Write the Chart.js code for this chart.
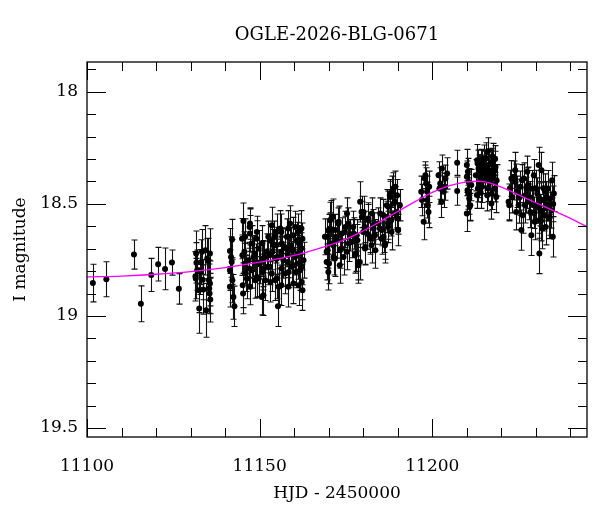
<!DOCTYPE html>
<html><head><meta charset="utf-8">
<script src="https://cdn.jsdelivr.net/npm/chart.js@4.4.0/dist/chart.umd.min.js"></script>
<style>html,body{margin:0;padding:0;background:#fff}#wrap{width:600px;height:512px}</style>
</head><body><div id="wrap"><canvas id="c" width="600" height="512"></canvas></div>
<script>
const chartTitle = 'OGLE-2026-BLG-0671';
const xLabel = 'HJD - 2450000';
const yLabel = 'I magnitude';
const xMin = 11100, xMax = 11244.8;
const yMin = 17.867, yMax = 19.54;
const xMajorTicks = [11100, 11150, 11200];
const xMinorTicks = [11110, 11120, 11130, 11140, 11160, 11170, 11180, 11190, 11210, 11220, 11230, 11240];
const yMajorTicks = [18, 18.5, 19, 19.5];
const yMinorTicks = [17.9, 18.1, 18.2, 18.3, 18.4, 18.6, 18.7, 18.8, 18.9, 19.1, 19.2, 19.3, 19.4];

// model fit curve
const fitHjd = [11100, 11110, 11120, 11130, 11140, 11150, 11160, 11170, 11175, 11180, 11185, 11190, 11195, 11200, 11205, 11210, 11215, 11220, 11225, 11230, 11235, 11240, 11245];
const fitMag = [18.826, 18.822, 18.814, 18.802, 18.784, 18.760, 18.730, 18.685, 18.657, 18.620, 18.578, 18.534, 18.490, 18.449, 18.419, 18.402, 18.401, 18.425, 18.460, 18.495, 18.530, 18.565, 18.604];

// photometry
const hjd = [
 11101.7,11105.6,11113.6,11115.6,11118.6,11120.6,11122.6,11124.6,11126.6,
 11131.6,11131.7,11131.4,11131.5,11132.4,11132.5,11133.3,11133.5,11133.7,11134.3,11134.5,11134.8,11135.0,11135.3,11135.6,11135.6,11135.5,11135.7,11135.4,11131.9,11132.8,11133.0,
 11142.0,11141.4,11141.7,11141.9,11141.4,11142.1,11141.4,11142.4,11142.7,
 11145.3,11145.8,11145.6,11146.0,11146.3,11147.2,11147.2,11147.7,11148.2,11148.7,11149.2,11149.7,11150.1,11150.6,11150.8,11151.6,11152.1,11152.5,11153.0,11153.5,11154.0,11154.5,11155.0,11155.3,11155.5,11156.0,11156.4,11156.9,11157.4,11157.9,11158.4,11158.8,11159.3,11159.8,11160.3,11160.8,11161.2,11161.7,11162.2,11162.4,11162.7,11162.4,
 11146.8,11148.5,11151.4,11152.4,11153.7,11154.3,11156.2,11157.2,11158.2,11159.1,11160.1,11160.5,11161.4,11149.7,11151.1,11145.8,11147.7,11153.5,
 11147.1,11147.0,11147.2,11149.1,11149.0,11149.2,11151.0,11150.9,11151.1,11153.0,11152.9,11153.1,11154.9,11154.8,11155.0,11154.9,11156.3,11156.2,11156.4,11156.3,11158.3,11158.2,11158.4,11158.3,11159.7,11159.6,11159.8,11161.2,11161.1,11161.3,11162.1,11162.0,11162.2,11145.0,11145.1,11145.2,11144.9,
 11169.5,11170.0,11170.4,11169.7,11170.1,11170.9,11171.1,11171.4,11171.9,11172.4,11172.9,11173.3,11173.8,11174.3,11174.8,11175.3,11175.8,11176.2,
 11177.2,11177.8,11178.3,11178.6,11179.1,11179.6,11180.1,11180.4,11180.6,11181.1,11181.5,11182.0,11182.5,11183.0,11183.5,
 11184.4,11184.9,11185.4,11185.9,11186.4,11186.9,11187.3,11187.8,11188.3,11188.8,11189.3,11189.8,11190.1,11189.1,11188.1,11187.2,
 11168.9,11169.4,11169.4,11169.9,11170.4,11170.8,11171.3,11171.8,11172.3,11172.8,11173.2,11173.7,
 11174.7,11175.2,11175.7,11176.6,11177.1,11177.6,11178.1,11178.6,11179.0,11179.5,11180.0,11180.5,11181.5,11181.9,11182.4,11182.9,11183.4,
 11184.8,11185.3,11185.8,11186.3,11186.8,11187.2,11187.7,11188.2,11188.7,11189.2,11189.7,11190.1,11190.6,11190.1,
 11197.0,11197.5,11197.8,11198.2,11198.5,11198.7,11198.9,11198.0,11199.1,11196.8,11198.5,
 11201.8,11202.3,11202.8,11203.3,11203.8,11204.3,11202.6,11203.6,11202.1,
 11207.2,11207.2,
 11210.0,11210.5,11210.2,11210.7,11210.0,11211.0,11210.3,11211.3,
 11213.0,11213.4,11213.9,11214.4,11214.9,11215.4,11215.9,11216.1,11216.3,11216.8,11217.1,11217.5,11217.8,11218.1,11218.3,11218.5,11213.2,11214.2,11215.2,11216.5,11217.3,11215.6,11214.6,11213.6,
 11212.6,11213.1,11213.8,11214.4,11215.2,11215.8,11216.4,11216.9,11217.4,11218.0,11218.6,11218.2,11214.0,11216.0,11217.2,11212.9,11210.0,11210.4,11210.8,
 11222.1,11222.3,11222.9,11223.6,11224.1,11224.3,11224.5,11225.0,11225.5,11225.8,11226.2,11226.5,11227.0,11227.5,11227.7,11227.9,11228.4,11228.7,11228.9,11229.4,11229.7,
 11229.9,11230.4,11230.8,11231.0,11231.3,11231.6,11231.8,11232.0,11232.3,11232.6,11232.8,11233.2,11233.5,11233.7,11234.2,11234.5,11234.7,11234.9,11235.2,11231.0,11230.6,
 11222.5,11223.2,11224.0,11225.3,11226.0,11226.8,11227.3,11228.2,11229.1,11230.0,11230.9,11231.5,11232.2,11233.0,11234.0,11235.0,11229.5,11232.9
];
const mag = [
 18.853,18.836,18.726,18.946,18.817,18.769,18.790,18.762,18.879,
 18.721,18.763,18.823,18.833,18.885,18.967,18.714,18.838,18.882,18.707,18.975,18.744,18.754,18.841,18.721,18.855,18.900,18.927,18.878,18.796,18.804,18.760,
 18.659,18.710,18.737,18.759,18.796,18.841,18.870,18.915,18.957,
 18.576,18.647,18.714,18.811,18.833,18.588,18.632,18.677,18.737,18.841,18.625,18.699,18.766,18.915,18.677,18.841,18.714,18.647,18.781,18.595,18.684,18.841,18.737,18.957,18.870,18.610,18.677,18.751,18.811,18.647,18.707,18.588,18.781,18.855,18.603,18.662,18.721,18.796,18.848,18.655,18.751,18.885,
 18.751,18.721,18.737,18.781,18.714,18.647,18.729,18.692,18.759,18.684,18.737,18.804,18.677,18.833,18.789,18.766,18.796,18.811,
 18.603,18.788,18.870,18.655,18.759,18.826,18.744,18.804,18.908,18.662,18.729,18.848,18.625,18.684,18.744,18.833,18.625,18.714,18.788,18.863,18.610,18.729,18.804,18.870,18.640,18.707,18.774,18.625,18.766,18.863,18.610,18.699,18.781,18.729,18.863,18.900,18.655,
 18.647,18.617,18.573,18.707,18.766,18.677,18.558,18.737,18.617,18.662,18.580,18.707,18.632,18.737,18.603,18.543,18.677,18.640,
 18.632,18.721,18.662,18.759,18.491,18.558,18.536,18.603,18.692,18.632,18.573,18.655,18.543,18.610,18.707,
 18.588,18.543,18.617,18.647,18.677,18.558,18.513,18.469,18.446,18.498,18.424,18.461,18.617,18.543,18.573,18.603,
 18.647,18.714,18.759,18.804,18.610,18.565,18.684,18.744,18.647,18.588,18.774,18.699,
 18.625,18.714,18.588,18.670,18.603,18.729,18.640,18.774,18.759,18.536,18.625,18.699,18.565,18.647,18.684,18.595,18.640,
 18.610,18.655,18.550,18.684,18.506,18.588,18.461,18.625,18.431,18.491,18.536,18.617,18.506,18.565,
 18.483,18.580,18.387,18.409,18.446,18.506,18.536,18.372,18.424,18.446,18.483,
 18.372,18.409,18.342,18.446,18.387,18.364,18.491,18.424,18.431,
 18.317,18.443,
 18.379,18.402,18.439,18.476,18.543,18.506,18.357,18.416,
 18.305,18.342,18.387,18.424,18.297,18.357,18.461,18.265,18.327,18.402,18.498,18.290,18.372,18.431,18.335,18.469,18.431,18.327,18.394,18.364,18.312,18.297,18.364,18.402,
 18.372,18.320,18.350,18.320,18.335,18.380,18.350,18.320,18.387,18.350,18.395,18.300,18.450,18.430,18.455,18.460,18.327,18.454,18.513,
 18.491,18.506,18.387,18.379,18.402,18.536,18.446,18.506,18.424,18.617,18.551,18.387,18.461,18.357,18.416,18.491,18.536,18.640,18.431,18.372,18.580,
 18.506,18.454,18.327,18.573,18.528,18.350,18.610,18.483,18.551,18.446,18.603,18.506,18.431,18.565,18.476,18.528,18.394,18.647,18.454,18.721,18.506,
 18.430,18.470,18.350,18.470,18.395,18.505,18.430,18.470,18.505,18.430,18.470,18.575,18.430,18.470,18.560,18.500,18.540,18.520
];
const err = [
 0.084,0.078,0.065,0.080,0.074,0.075,0.093,0.056,0.068,
 0.10,0.09,0.11,0.09,0.10,0.11,0.10,0.09,0.11,0.11,0.12,0.09,0.10,0.09,0.11,0.10,0.09,0.10,0.11,0.09,0.10,0.10,
 0.09,0.10,0.09,0.10,0.09,0.10,0.09,0.10,0.09,
 0.08,0.08,0.09,0.08,0.09,0.07,0.08,0.08,0.09,0.08,0.07,0.08,0.09,0.08,0.08,0.09,0.08,0.07,0.08,0.08,0.07,0.09,0.08,0.09,0.08,0.08,0.07,0.08,0.09,0.08,0.07,0.08,0.08,0.09,0.07,0.08,0.08,0.09,0.08,0.07,0.08,0.09,
 0.08,0.08,0.07,0.08,0.08,0.07,0.08,0.08,0.07,0.08,0.08,0.07,0.08,0.08,0.08,0.09,0.08,0.08,
 0.08,0.09,0.08,0.08,0.08,0.09,0.08,0.08,0.09,0.07,0.08,0.09,0.08,0.08,0.07,0.09,0.08,0.07,0.08,0.09,0.08,0.08,0.07,0.09,0.08,0.07,0.08,0.08,0.07,0.09,0.08,0.07,0.08,0.09,0.10,0.09,0.09,
 0.08,0.07,0.08,0.08,0.09,0.07,0.08,0.08,0.07,0.08,0.07,0.08,0.07,0.08,0.07,0.07,0.08,0.07,
 0.07,0.08,0.07,0.08,0.09,0.07,0.07,0.07,0.08,0.07,0.07,0.07,0.07,0.07,0.08,
 0.07,0.07,0.07,0.07,0.07,0.07,0.07,0.07,0.07,0.07,0.07,0.07,0.07,0.07,0.07,0.07,
 0.08,0.07,0.08,0.08,0.07,0.08,0.07,0.08,0.07,0.07,0.08,0.07,
 0.07,0.08,0.07,0.07,0.07,0.08,0.07,0.08,0.08,0.07,0.07,0.07,0.07,0.07,0.08,0.07,0.07,
 0.07,0.07,0.07,0.08,0.07,0.07,0.07,0.08,0.07,0.07,0.07,0.07,0.07,0.07,
 0.07,0.08,0.06,0.07,0.07,0.08,0.07,0.06,0.07,0.07,0.08,
 0.06,0.07,0.06,0.07,0.06,0.07,0.07,0.06,0.07,
 0.056,0.063,
 0.07,0.06,0.07,0.07,0.08,0.07,0.06,0.07,
 0.07,0.06,0.07,0.07,0.06,0.07,0.07,0.06,0.07,0.06,0.07,0.06,0.07,0.06,0.07,0.07,0.06,0.07,0.06,0.07,0.06,0.07,0.06,0.07,
 0.07,0.06,0.07,0.06,0.07,0.06,0.07,0.06,0.07,0.06,0.07,0.06,0.07,0.06,0.07,0.06,0.07,0.07,0.06,
 0.08,0.07,0.08,0.07,0.08,0.08,0.07,0.08,0.07,0.09,0.08,0.07,0.08,0.07,0.08,0.08,0.07,0.09,0.08,0.07,0.08,
 0.08,0.07,0.08,0.08,0.07,0.08,0.09,0.08,0.07,0.08,0.08,0.07,0.08,0.09,0.07,0.08,0.08,0.09,0.08,0.09,0.08,
 0.08,0.07,0.08,0.08,0.07,0.08,0.09,0.07,0.08,0.08,0.07,0.09,0.08,0.07,0.08,0.08,0.07,0.08
];

const errorBars = {
  id: 'errorBars',
  beforeDatasetsDraw(chart) {
    const {ctx, chartArea: a, scales: {x, y}} = chart;
    ctx.save();
    ctx.beginPath(); ctx.rect(a.left, a.top, a.right - a.left, a.bottom - a.top); ctx.clip();
    ctx.strokeStyle = '#111'; ctx.lineWidth = 1.1;
    ctx.beginPath();
    const n = Math.min(hjd.length, mag.length, err.length);
    for (let i = 0; i < n; i++) {
      const px = Math.round(x.getPixelForValue(hjd[i])) + 0.5;
      const y1 = y.getPixelForValue(mag[i] - err[i]);
      const y2 = y.getPixelForValue(mag[i] + err[i]);
      ctx.moveTo(px, y1); ctx.lineTo(px, y2);
      ctx.moveTo(px - 3, y1); ctx.lineTo(px + 3, y1);
      ctx.moveTo(px - 3, y2); ctx.lineTo(px + 3, y2);
    }
    ctx.stroke();
    ctx.restore();
  }
};

const frame = {
  id: 'frame',
  afterDraw(chart) {
    const {ctx, chartArea: a, scales: {x, y}} = chart;
    ctx.save();
    ctx.fillStyle = '#000';
    ctx.font = '18px "DejaVu Serif", serif';
    ctx.textAlign = 'center'; ctx.textBaseline = 'middle';
    ctx.fillText(chartTitle, (a.left + a.right) / 2, 35);
    ctx.strokeStyle = '#000'; ctx.lineWidth = 1.3;
    ctx.strokeRect(a.left, a.top, a.right - a.left, a.bottom - a.top);
    ctx.lineWidth = 1;
    ctx.beginPath();
    const vt = (v, len) => {
      const px = Math.round(x.getPixelForValue(v)) + 0.5;
      ctx.moveTo(px, a.bottom); ctx.lineTo(px, a.bottom - len);
      ctx.moveTo(px, a.top); ctx.lineTo(px, a.top + len);
    };
    const ht = (v, len) => {
      const py = Math.round(y.getPixelForValue(v)) + 0.5;
      ctx.moveTo(a.left, py); ctx.lineTo(a.left + len, py);
      ctx.moveTo(a.right, py); ctx.lineTo(a.right - len, py);
    };
    xMajorTicks.forEach(v => vt(v, 18));
    xMinorTicks.forEach(v => vt(v, 9));
    yMajorTicks.forEach(v => ht(v, 19));
    yMinorTicks.forEach(v => ht(v, 9));
    ctx.stroke();
    ctx.restore();
  }
};

Chart.defaults.font.family = '"DejaVu Serif", serif';
Chart.defaults.color = '#000';

new Chart(document.getElementById('c'), {
  type: 'scatter',
  data: {
    datasets: [
      {
        type: 'line',
        data: fitHjd.map((v, i) => ({x: v, y: fitMag[i]})),
        borderColor: '#ff00ff', borderWidth: 1.3, pointRadius: 0, tension: 0.4, fill: false
      },
      {
        data: hjd.map((v, i) => ({x: v, y: mag[i]})),
        backgroundColor: '#000', borderColor: '#000', pointRadius: 3, borderWidth: 0
      }
    ]
  },
  options: {
    responsive: false, animation: false,
    layout: {padding: {left: 0, right: 13, top: 62, bottom: 0}},
    plugins: {legend: {display: false}, tooltip: {enabled: false}, title: {display: false}},
    scales: {
      x: {
        type: 'linear', min: xMin, max: xMax,
        grid: {display: false, drawTicks: false}, border: {display: false},
        afterBuildTicks: s => { s.ticks = xMajorTicks.map(v => ({value: v})); },
        afterFit: s => { s.height = 75; },
        ticks: {font: {size: 17}, color: '#000', padding: 19, maxRotation: 0, autoSkip: false, callback: v => String(v)},
        title: {display: true, text: xLabel, color: '#000', font: {size: 17}, padding: {top: 0, bottom: 8}}
      },
      y: {
        type: 'linear', reverse: true, min: yMin, max: yMax,
        grid: {display: false, drawTicks: false}, border: {display: false},
        afterBuildTicks: s => { s.ticks = yMajorTicks.map(v => ({value: v})); },
        afterFit: s => { s.width = 87; },
        ticks: {font: {size: 17}, color: '#000', padding: 9, autoSkip: false, callback: v => String(v)},
        title: {display: true, text: yLabel, color: '#000', font: {size: 17}, padding: 10}
      }
    }
  },
  plugins: [errorBars, frame]
});
</script>
</body></html>
